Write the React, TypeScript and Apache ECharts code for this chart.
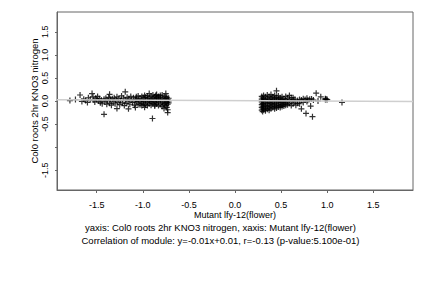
import React, { useEffect, useRef } from "react";
import * as echarts from "echarts";

const xTicks = [-1.5, -1.0, -0.5, 0.0, 0.5, 1.0, 1.5];
const yTicks = [-1.5, -1.0, -0.5, 0.0, 0.5, 1.0, 1.5];
const yHiddenLabels = [-1.0];
const axisMin = -1.93;
const axisMax = 1.93;
const slope = -0.01;
const intercept = 0.01;

const xTitle = "Mutant lfy-12(flower)";
const yTitle = "Col0 roots 2hr KNO3 nitrogen";
const footer1 = "yaxis: Col0 roots 2hr KNO3 nitrogen, xaxis: Mutant lfy-12(flower)";
const footer2 = "Correlation of module: y=-0.01x+0.01, r=-0.13 (p-value:5.100e-01)";

const leftTail: number[][] = [
  [-1.79, 0.01], [-1.73, 0.03], [-1.68, 0.13], [-1.66, -0.01], [-1.64, 0.04], [-1.62, 0.01],
  [-1.6, -0.03], [-1.59, 0.07], [-1.57, 0.03], [-1.55, 0.16], [-1.54, 0.09], [-1.53, 0.02],
  [-1.52, -0.02], [-1.51, 0.06], [-1.5, 0.03], [-1.49, 0.1], [-1.48, 0.0], [-1.47, 0.05],
  [-1.46, -0.04], [-1.45, 0.02], [-1.44, -0.06], [-1.42, -0.29], [-1.42, 0.04], [-1.41, -0.02],
  [-1.4, 0.06], [-1.39, -0.07], [-1.38, 0.01], [-1.37, 0.08], [-1.36, 0.145], [-1.36, -0.05],
  [-1.35, 0.03], [-1.34, -0.09], [-1.33, 0.05], [-1.32, -0.02], [-1.31, 0.07], [-1.3, -0.06],
  [-1.29, 0.02], [-1.28, -0.165], [-1.28, 0.09], [-1.27, -0.03], [-1.26, 0.05], [-1.25, -0.08],
  [-1.24, 0.01], [-1.23, 0.11], [-1.22, -0.04], [-1.21, 0.06], [-1.2, -0.1], [-1.19, 0.2],
  [-1.19, 0.02], [-1.18, -0.05], [-1.17, 0.08], [-1.16, 0.0], [-1.155, -0.17], [-1.15, 0.04],
  [-1.14, -0.07], [-1.13, 0.1], [-1.12, 0.02], [-1.11, -0.03], [-1.1, 0.07], [-1.09, -0.09],
  [-1.08, -0.14], [-1.08, 0.03],
];

const leftCore: number[][] = [
  [-1.07, 0.09], [-1.07, -0.02], [-1.07, 0.04],
  [-1.05, -0.06], [-1.05, 0.01], [-1.05, 0.11],
  [-1.03, 0.06], [-1.03, -0.08], [-1.03, 0.0],
  [-1.01, 0.03], [-1.01, -0.04], [-1.01, 0.1], [-1.01, -0.1],
  [-0.99, 0.07], [-0.99, -0.01], [-0.99, -0.06],
  [-0.98, -0.137], [-0.98, 0.12],
  [-0.97, 0.02], [-0.97, -0.08], [-0.97, 0.08],
  [-0.95, -0.03], [-0.95, 0.05], [-0.95, 0.11], [-0.95, -0.1],
  [-0.93, 0.16], [-0.93, 0.0], [-0.93, -0.06], [-0.93, 0.07],
  [-0.91, 0.03], [-0.91, -0.09], [-0.91, 0.1], [-0.91, -0.02],
  [-0.895, -0.38],
  [-0.89, 0.06], [-0.89, -0.05], [-0.89, 0.13], [-0.89, 0.0],
  [-0.87, -0.08], [-0.87, 0.04], [-0.87, 0.09], [-0.87, -0.11],
  [-0.86, 0.12], [-0.86, -0.03],
  [-0.85, 0.01], [-0.85, 0.07], [-0.85, -0.06], [-0.85, 0.14],
  [-0.83, -0.1], [-0.83, 0.05], [-0.83, -0.02], [-0.83, 0.1],
  [-0.81, 0.03], [-0.81, -0.07], [-0.81, 0.08], [-0.81, 0.12],
  [-0.79, 0.13], [-0.79, -0.04], [-0.79, 0.0], [-0.79, -0.12],
  [-0.77, -0.16], [-0.77, 0.06], [-0.77, -0.08], [-0.77, 0.02],
  [-0.76, 0.1], [-0.76, -0.05],
  [-0.75, 0.16], [-0.75, 0.01], [-0.75, -0.1], [-0.75, 0.05],
  [-0.74, -0.03], [-0.74, 0.08], [-0.74, -0.14],
  [-0.73, -0.25], [-0.73, 0.03], [-0.73, -0.07], [-0.73, -0.19],
  [-0.72, 0.0], [-0.72, 0.06], [-0.72, -0.04],
];

const rightCore: number[][] = [
  [0.29, 0.1], [0.29, 0.04], [0.29, -0.02], [0.29, -0.08], [0.29, -0.14], [0.29, -0.2],
  [0.3, 0.07], [0.3, 0.01], [0.3, -0.05], [0.3, -0.11], [0.3, -0.17], [0.3, -0.23],
  [0.31, 0.12], [0.31, 0.05], [0.31, -0.01], [0.31, -0.07], [0.31, -0.13], [0.31, -0.19],
  [0.33, 0.09], [0.33, 0.03], [0.33, -0.04], [0.33, -0.1], [0.33, -0.16], [0.33, -0.21],
  [0.35, 0.13], [0.35, 0.06], [0.35, 0.0], [0.35, -0.06], [0.35, -0.12], [0.35, -0.18],
  [0.37, 0.1], [0.37, 0.03], [0.37, -0.03], [0.37, -0.09], [0.37, -0.15], [0.37, -0.2],
  [0.39, 0.14], [0.39, 0.07], [0.39, 0.01], [0.39, -0.05], [0.39, -0.11], [0.39, -0.17],
  [0.41, 0.09], [0.41, 0.04], [0.41, -0.02], [0.41, -0.08], [0.41, -0.14],
  [0.43, 0.12], [0.43, 0.06], [0.43, 0.0], [0.43, -0.06], [0.43, -0.12], [0.43, -0.17],
  [0.45, 0.22], [0.45, 0.08], [0.45, 0.02], [0.45, -0.04], [0.45, -0.1], [0.45, -0.15],
  [0.47, 0.11], [0.47, 0.05], [0.47, -0.01], [0.47, -0.07], [0.47, -0.13],
  [0.49, 0.07], [0.49, 0.02], [0.49, -0.04], [0.49, -0.1], [0.49, -0.14],
  [0.51, 0.09], [0.51, 0.03], [0.51, -0.03], [0.51, -0.08], [0.51, -0.12],
];

const rightTail: number[][] = [
  [0.53, 0.05], [0.53, -0.01], [0.53, -0.06], [0.53, -0.11],
  [0.55, 0.1], [0.55, 0.02], [0.55, -0.04], [0.55, -0.09],
  [0.57, 0.06], [0.57, -0.02], [0.57, -0.08],
  [0.59, 0.12], [0.59, 0.03], [0.59, -0.05],
  [0.61, 0.07], [0.61, -0.01], [0.61, -0.1],
  [0.63, 0.07], [0.63, 0.02], [0.63, -0.06],
  [0.65, -0.02], [0.65, 0.04], [0.66, -0.09],
  [0.68, 0.01], [0.68, -0.05], [0.7, -0.06], [0.7, 0.03],
  [0.72, -0.17], [0.72, 0.02], [0.74, 0.05], [0.74, -0.03],
  [0.76, 0.03], [0.77, -0.27], [0.78, 0.06], [0.78, -0.01],
  [0.79, 0.015], [0.81, 0.04], [0.82, -0.11], [0.83, 0.045],
  [0.84, -0.34], [0.85, 0.02], [0.88, 0.17], [0.9, 0.0],
  [0.93, 0.09], [0.98, 0.05], [0.98, 0.03], [0.99, 0.04], [1.0, 0.03],
  [1.16, -0.03],
];

const PLUS = "path://M2,0H3V2H5V3H3V5H2V3H0V2H2Z";
const FONT = "Liberation Sans";

export default function App() {
  const ref = useRef<HTMLDivElement>(null);
  useEffect(() => {
    document.body.style.margin = "0";
    if (!ref.current) return;
    const chart = echarts.init(ref.current, null, { renderer: "svg" });
    const points = [...leftTail, ...leftCore, ...rightCore, ...rightTail];
    const fit = [
      [axisMin, slope * axisMin + intercept],
      [axisMax, slope * axisMax + intercept],
    ];
    chart.setOption({
      animation: false,
      backgroundColor: "#ffffff",
      textStyle: { fontFamily: FONT },
      grid: {
        left: 57, right: 19, top: 12, bottom: 98,
        show: true, borderColor: "#666", borderWidth: 1, backgroundColor: "transparent",
      },
      xAxis: {
        type: "value", min: axisMin, max: axisMax,
        name: xTitle, nameLocation: "middle", nameGap: 20, nameMoveOverlap: false,
        nameTextStyle: { fontSize: 9, color: "#000", fontFamily: FONT, lineHeight: 10 },
        axisLine: { show: true, onZero: false, lineStyle: { color: "#666", width: 1 } },
        axisTick: { show: true, length: 3, inside: false, customValues: xTicks, lineStyle: { color: "#666" } },
        axisLabel: {
          customValues: xTicks, fontSize: 9, color: "#000", margin: 10, fontFamily: FONT,
          formatter: (v: number) => v.toFixed(1),
        },
        splitLine: { show: false },
      },
      yAxis: {
        type: "value", min: axisMin, max: axisMax,
        name: yTitle, nameLocation: "middle", nameGap: 18, nameRotate: 90, nameMoveOverlap: false,
        nameTextStyle: { fontSize: 9.5, color: "#000", fontFamily: FONT, lineHeight: 10 },
        axisLine: { show: true, onZero: false, lineStyle: { color: "#666", width: 1 } },
        axisTick: { show: true, length: 2, inside: false, customValues: yTicks, lineStyle: { color: "#666" } },
        axisLabel: {
          customValues: yTicks, fontSize: 9, color: "#000", margin: 8, rotate: 90, fontFamily: FONT,
          formatter: (v: number) => (yHiddenLabels.some((h) => Math.abs(h - v) < 1e-9) ? "" : v.toFixed(1)),
        },
        splitLine: { show: false },
      },
      graphic: [
        {
          type: "text", x: 220.5, y: 227, z: 10,
          style: { text: footer1, fontSize: 9.5, fontFamily: FONT, fill: "#000", align: "center", verticalAlign: "middle" },
        },
        {
          type: "text", x: 220.5, y: 240, z: 10,
          style: { text: footer2, fontSize: 9.5, fontFamily: FONT, fill: "#000", align: "center", verticalAlign: "middle" },
        },
      ],
      series: [
        {
          type: "scatter", data: points, symbol: PLUS, symbolSize: 6,
          itemStyle: { color: "#000" }, z: 2,
        },
        {
          type: "line", data: fit, symbol: "none", z: 3,
          lineStyle: { color: "#cfcfcf", width: 1.5 },
        },
      ],
    });
    return () => chart.dispose();
  }, []);
  return <div ref={ref} style={{ width: 432, height: 288 }} />;
}
